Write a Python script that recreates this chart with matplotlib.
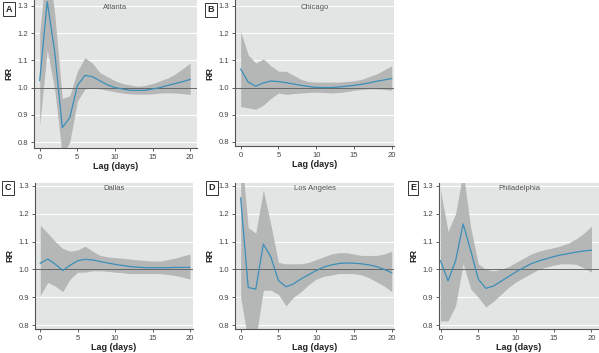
import matplotlib
matplotlib.use("Agg")
import matplotlib.pyplot as plt
import numpy as np

plt.rcParams['font.family'] = ['Liberation Sans Narrow', 'Liberation Sans', 'DejaVu Sans']

lags = list(range(21))
y_ticks = [0.8, 0.9, 1.0, 1.1, 1.2, 1.3]
x_ticks = [0, 5, 10, 15, 20]

atlanta_rr = [1.026, 1.316, 1.13, 0.853, 0.89, 1.007, 1.045, 1.04, 1.025, 1.01, 1.0,
              0.995, 0.99, 0.99, 0.99, 0.995, 1.0, 1.008, 1.015, 1.022, 1.03]
atlanta_lo = [0.86, 1.14, 0.99, 0.75, 0.80, 0.95, 0.995, 1.0, 0.995, 0.99, 0.985,
              0.98, 0.977, 0.976, 0.976, 0.977, 0.98, 0.981, 0.98, 0.978, 0.975]
atlanta_hi = [1.2, 1.48, 1.27, 0.96, 0.97, 1.06, 1.11, 1.09, 1.055, 1.04, 1.025,
              1.015, 1.01, 1.005, 1.008, 1.015, 1.025, 1.035, 1.05, 1.07, 1.09]

chicago_rr = [1.068, 1.02, 1.005, 1.017, 1.024, 1.022, 1.018, 1.013, 1.008, 1.004, 1.0,
              1.0, 1.0, 1.002, 1.005, 1.008, 1.012, 1.017, 1.023, 1.028, 1.033]
chicago_lo = [0.93, 0.925, 0.92, 0.935, 0.96, 0.98, 0.975, 0.978, 0.98, 0.982, 0.983,
              0.982, 0.98, 0.982, 0.985, 0.99, 0.993, 0.995, 0.995, 0.993, 0.99]
chicago_hi = [1.206, 1.12, 1.09, 1.105, 1.08, 1.06, 1.06, 1.045, 1.03, 1.022, 1.02,
              1.02, 1.02, 1.02, 1.022, 1.025, 1.03, 1.04, 1.05, 1.065, 1.08]

dallas_rr = [1.022, 1.037, 1.019, 0.996, 1.015, 1.031, 1.036, 1.034, 1.028, 1.023, 1.018,
             1.014, 1.01, 1.008, 1.006, 1.006, 1.006, 1.006, 1.007, 1.007, 1.007]
dallas_lo = [0.906, 0.953, 0.94, 0.92, 0.965, 0.99, 0.99, 0.995, 0.995, 0.993, 0.99,
             0.988, 0.985, 0.985, 0.985, 0.985, 0.985, 0.982, 0.978, 0.972, 0.965]
dallas_hi = [1.159, 1.13, 1.10, 1.075, 1.065, 1.07, 1.083, 1.065, 1.05, 1.045, 1.042,
             1.04, 1.037, 1.034, 1.032, 1.03, 1.03, 1.035, 1.04, 1.048, 1.055]

la_rr = [1.256, 0.935, 0.929, 1.091, 1.044, 0.96, 0.9375, 0.948, 0.966, 0.981, 0.996,
         1.008, 1.016, 1.021, 1.023, 1.022, 1.02, 1.016, 1.01, 1.0, 0.988]
la_lo = [0.90, 0.74, 0.75, 0.925, 0.925, 0.91, 0.869, 0.90, 0.92, 0.945, 0.965,
         0.975, 0.98, 0.985, 0.985, 0.985, 0.98, 0.97, 0.955, 0.94, 0.92]
la_hi = [1.45, 1.15, 1.13, 1.285, 1.16, 1.025, 1.02, 1.02, 1.02, 1.025, 1.035,
         1.045, 1.055, 1.06, 1.06, 1.055, 1.05, 1.05, 1.05, 1.055, 1.065]

phil_rr = [1.031, 0.959, 1.031, 1.163, 1.068, 0.965, 0.932, 0.94, 0.957, 0.974, 0.991,
           1.006, 1.02, 1.03, 1.038, 1.046, 1.052, 1.057, 1.062, 1.066, 1.069]
phil_lo = [0.815, 0.815, 0.87, 1.02, 0.93, 0.90, 0.865, 0.885, 0.91, 0.935, 0.955,
           0.97, 0.985, 1.0, 1.008, 1.015, 1.02, 1.02, 1.018, 1.005, 0.99]
phil_hi = [1.284, 1.136, 1.2, 1.35, 1.15, 1.02, 1.0, 0.995, 1.0, 1.01, 1.025,
           1.04, 1.055, 1.065, 1.072, 1.078, 1.085, 1.095, 1.11, 1.13, 1.155]

panels = [
    ("A", "Atlanta", atlanta_rr, atlanta_lo, atlanta_hi),
    ("B", "Chicago", chicago_rr, chicago_lo, chicago_hi),
    ("C", "Dallas", dallas_rr, dallas_lo, dallas_hi),
    ("D", "Los Angeles", la_rr, la_lo, la_hi),
    ("E", "Philadelphia", phil_rr, phil_lo, phil_hi),
]

W, H = 599, 353
# pixel boxes: left, top, right, bottom, xlim, ylim
boxes = [
    (34, 0, 197, 148, (-0.76, 20.9), (0.778, 1.322)),
    (235, 0, 394, 146, (-0.75, 20.3), (0.785, 1.322)),
    (35, 183, 193, 329, (-0.7, 20.4), (0.786, 1.31)),
    (235, 183, 394, 329, (-0.75, 20.3), (0.786, 1.31)),
    (439, 183, 599, 329, (-0.2, 21.0), (0.786, 1.31)),
]
label_pos = [(9, 9), (211, 10), (8, 188), (212, 188), (413, 188)]

fig = plt.figure(figsize=(W / 100, H / 100), dpi=100)
fig.patch.set_facecolor("white")

bg = "#e3e5e5"
band_c = "#b5b7b7"
line_c = "#3b8fb8"
ax_c = "#555555"

for (letter, city, rr, lo, hi), (l, t, r, b, xl, yl), (lx, ly) in zip(panels, boxes, label_pos):
    ax = fig.add_axes([l / W, 1 - b / H, (r - l) / W, (b - t) / H])
    ax.set_facecolor(bg)
    ax.set_xlim(*xl)
    ax.set_ylim(*yl)
    for yv in y_ticks:
        if yv != 1.0:
            ax.axhline(yv, color="white", lw=0.8, zorder=0.5)
    ax.fill_between(lags, lo, hi, color=band_c, lw=0, zorder=1)
    ax.axhline(1.0, color="#666666", lw=0.7, zorder=2)
    ax.plot(lags, rr, color=line_c, lw=0.9, zorder=3)
    ax.set_xticks(x_ticks)
    ax.set_yticks(y_ticks)
    ax.set_xticklabels([str(v) for v in x_ticks])
    ax.set_yticklabels(["%.1f" % v for v in y_ticks])
    ax.tick_params(labelsize=5.5, colors="#444444", length=2.5, width=0.6, pad=1.5)
    for s in ["top", "right"]:
        ax.spines[s].set_visible(False)
    for s in ["left", "bottom"]:
        ax.spines[s].set_color(ax_c)
        ax.spines[s].set_linewidth(0.8)
    ax.set_xlabel("Lag (days)", fontsize=6.5, fontweight="bold", labelpad=1, color="#222222")
    ax.set_ylabel("RR", fontsize=6.5, fontweight="bold", labelpad=3, color="#222222")
    ax.text(0.5, 0.985 if t > 0 else 0.97, city, transform=ax.transAxes, ha="center", va="top",
            fontsize=5.5, color="#555555")
    fig.text(lx / W, 1 - ly / H, letter, ha="center", va="center", fontsize=6.5,
             fontweight="bold", color="#222222",
             bbox=dict(boxstyle="square,pad=0.25", fc="white", ec="#333333", lw=0.7))

fig.savefig("out.png", dpi=100)
